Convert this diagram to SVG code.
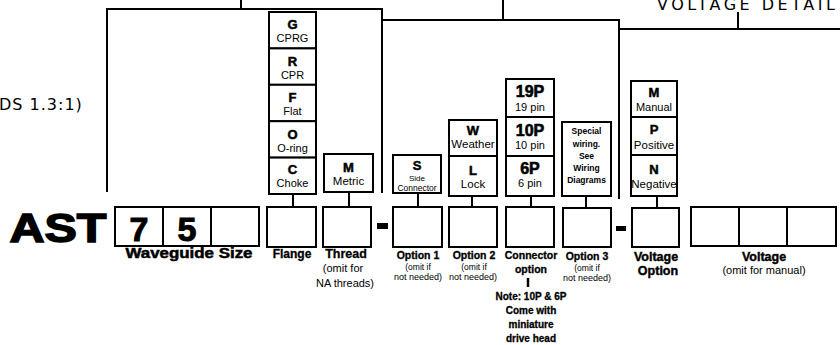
<svg xmlns="http://www.w3.org/2000/svg" width="840" height="345" viewBox="0 0 840 345">
<style>
.b{fill:#fff;stroke:#000;stroke-width:2}
.ln{fill:none;stroke:#000;stroke-width:2}
text{font-family:"Liberation Sans",Arial,sans-serif;fill:#000;text-anchor:middle}
.k{font-weight:bold}
.h{font-weight:bold;stroke:#000;stroke-width:0.5}
.cad{font-family:"DejaVu Sans",sans-serif;text-anchor:start;font-size:16px;letter-spacing:3.5px}
</style>
<rect width="840" height="345" fill="#fff"/>
<text class="cad" x="657" y="10">VOLTAGE DETAIL</text>
<text class="cad" x="-1" y="110" style="letter-spacing:1px">DS 1.3:1)</text>

<g id="connectors">
<polyline class="ln" points="107,192 107,9 382,9 382,193"/>
<line class="ln" x1="241" y1="0" x2="241" y2="9"/>
<polyline class="ln" points="382,20 619,20 619,199"/>
<line class="ln" x1="503" y1="0" x2="503" y2="20"/>
<polyline class="ln" points="619,29 840,29"/>
<line class="ln" x1="738" y1="12" x2="738" y2="29"/>
<line class="ln" x1="293" y1="194" x2="293" y2="207"/>
<line class="ln" x1="349" y1="192" x2="349" y2="207"/>
<line class="ln" x1="418" y1="193" x2="418" y2="207"/>
<line class="ln" x1="472" y1="196" x2="472" y2="207"/>
<line class="ln" x1="531" y1="196" x2="531" y2="207"/>
<line class="ln" x1="586" y1="196" x2="586" y2="208"/>
<line class="ln" x1="657" y1="196" x2="657" y2="208"/>
<line x1="528" y1="278" x2="528" y2="287" stroke="#000" stroke-width="2.5"/>
</g>

<g id="prefix">
<text class="h" x="58" y="242" font-size="40" textLength="97" lengthAdjust="spacingAndGlyphs" style="stroke-width:1.5">AST</text>
</g>

<g id="waveguide">
<rect class="b" x="115" y="207" width="48" height="39"/>
<rect class="b" x="163" y="207" width="48" height="39"/>
<rect class="b" x="211" y="207" width="48" height="39"/>
<text class="h" x="139" y="241" font-size="34" style="stroke-width:1">7</text>
<text class="h" x="187" y="241" font-size="34" style="stroke-width:1">5</text>
<text class="h" x="189" y="258" font-size="14" textLength="127" lengthAdjust="spacingAndGlyphs">Waveguide Size</text>
</g>

<g id="flange-options">
<rect class="b" x="269" y="12" width="47" height="36.4"/>
<rect class="b" x="269" y="48.4" width="47" height="36.4"/>
<rect class="b" x="269" y="84.8" width="47" height="36.4"/>
<rect class="b" x="269" y="121.2" width="47" height="36.4"/>
<rect class="b" x="269" y="157.6" width="47" height="36.4"/>
<text class="h" x="292.5" y="29" font-size="13">G</text>
<text x="292.5" y="42" font-size="11">CPRG</text>
<text class="h" x="292.5" y="65.5" font-size="13">R</text>
<text x="292.5" y="78.5" font-size="11">CPR</text>
<text class="h" x="292.5" y="102" font-size="13">F</text>
<text x="292.5" y="115" font-size="11">Flat</text>
<text class="h" x="292.5" y="138.5" font-size="13">O</text>
<text x="292.5" y="151.5" font-size="11">O-ring</text>
<text class="h" x="292.5" y="173.5" font-size="13">C</text>
<text x="292.5" y="187" font-size="11">Choke</text>
</g>
<g id="flange">
<rect class="b" x="267" y="207" width="49" height="40"/>
<text class="h" x="292" y="258" font-size="12" style="stroke-width:0.3">Flange</text>
</g>

<g id="thread-options">
<rect class="b" x="324" y="154" width="49" height="38"/>
<text class="h" x="348.5" y="172" font-size="13">M</text>
<text x="348.5" y="185" font-size="11.5">Metric</text>
</g>
<g id="thread">
<rect class="b" x="323" y="207" width="48" height="40"/>
<text class="h" x="346" y="258" font-size="12.5" style="stroke-width:0.3">Thread</text>
<text x="343" y="272" font-size="11">(omit for</text>
<text x="345" y="287" font-size="11">NA threads)</text>
</g>

<rect id="dash1" x="377" y="223" width="11" height="6" fill="#000"/>

<g id="option1-options">
<rect class="b" x="393" y="155" width="48" height="38"/>
<text class="h" x="417" y="170" font-size="13">S</text>
<text x="417" y="181" font-size="8">Side</text>
<text x="417" y="191" font-size="8.5">Connector</text>
</g>
<g id="option1">
<rect class="b" x="393" y="207" width="49" height="40"/>
<text class="h" x="418" y="259" font-size="10.5" style="stroke-width:0.3">Option 1</text>
<text x="418" y="270" font-size="8.5">(omit if</text>
<text x="418" y="280" font-size="9">not needed)</text>
</g>

<g id="option2-options">
<rect class="b" x="449" y="120" width="48" height="36"/>
<rect class="b" x="449" y="156" width="48" height="40"/>
<text class="h" x="473" y="135" font-size="13">W</text>
<text x="473" y="148" font-size="11.5">Weather</text>
<text class="h" x="473" y="175" font-size="13">L</text>
<text x="473" y="188" font-size="11.5">Lock</text>
</g>
<g id="option2">
<rect class="b" x="449" y="207" width="48" height="40"/>
<text class="h" x="474" y="259" font-size="10.5" style="stroke-width:0.3">Option 2</text>
<text x="474" y="270" font-size="8.5">(omit if</text>
<text x="473" y="280" font-size="9">not needed)</text>
</g>

<g id="connector-options">
<rect class="b" x="506" y="79" width="48" height="38"/>
<rect class="b" x="506" y="117" width="48" height="39"/>
<rect class="b" x="506" y="156" width="48" height="40"/>
<text class="h" x="530" y="97" font-size="16" style="stroke-width:0.6">19P</text>
<text x="530" y="111" font-size="11">19 pin</text>
<text class="h" x="530" y="136" font-size="16" style="stroke-width:0.6">10P</text>
<text x="530" y="149" font-size="11">10 pin</text>
<text class="h" x="530" y="174" font-size="16" style="stroke-width:0.6">6P</text>
<text x="530" y="187" font-size="11">6 pin</text>
</g>
<g id="connector-option">
<rect class="b" x="506" y="207" width="48" height="40"/>
<text class="h" x="531" y="259" font-size="10.5" style="stroke-width:0.3">Connector</text>
<text class="h" x="531" y="273" font-size="10.5" style="stroke-width:0.3">option</text>
<text class="h" x="531" y="300" font-size="10" style="stroke-width:0.3">Note: 10P &amp; 6P</text>
<text class="h" x="531" y="314" font-size="10" style="stroke-width:0.3">Come with</text>
<text class="h" x="531" y="328" font-size="10" style="stroke-width:0.3">miniature</text>
<text class="h" x="531" y="342" font-size="10" style="stroke-width:0.3">drive head</text>
</g>

<g id="option3-options">
<rect class="b" x="562" y="122" width="49" height="74"/>
<text class="k" x="586.5" y="134" font-size="8.5">Special</text>
<text class="k" x="586.5" y="147" font-size="8.5">wiring.</text>
<text class="k" x="586.5" y="159" font-size="8.5">See</text>
<text class="k" x="586.5" y="171" font-size="8.5">Wiring</text>
<text class="k" x="586.5" y="183" font-size="8.5">Diagrams</text>
</g>
<g id="option3">
<rect class="b" x="563" y="208" width="48" height="39"/>
<text class="h" x="587" y="260" font-size="10.5" style="stroke-width:0.3">Option 3</text>
<text x="587" y="271" font-size="8.5">(omit if</text>
<text x="587" y="281" font-size="9">not needed)</text>
</g>

<rect id="dash2" x="616" y="226" width="10" height="5" fill="#000"/>

<g id="voltage-option-options">
<rect class="b" x="631" y="81" width="46" height="36"/>
<rect class="b" x="631" y="117" width="46" height="38"/>
<rect class="b" x="631" y="155" width="46" height="41"/>
<text class="h" x="654" y="97" font-size="13">M</text>
<text x="654" y="111" font-size="11">Manual</text>
<text class="h" x="654" y="134" font-size="13">P</text>
<text x="654" y="149" font-size="11.5">Positive</text>
<text class="h" x="654" y="174" font-size="13">N</text>
<text x="654" y="188" font-size="11.5">Negative</text>
</g>
<g id="voltage-option">
<rect class="b" x="632" y="208" width="47" height="39"/>
<text class="h" x="656" y="261" font-size="12.5" style="stroke-width:0.4">Voltage</text>
<text class="h" x="658" y="275" font-size="12.5" style="stroke-width:0.4">Option</text>
</g>

<g id="voltage">
<rect class="b" x="691" y="207" width="48" height="39"/>
<rect class="b" x="739" y="207" width="48" height="39"/>
<rect class="b" x="787" y="207" width="49" height="39"/>
<text class="h" x="764" y="261" font-size="12.5" style="stroke-width:0.4">Voltage</text>
<text x="764" y="274" font-size="11">(omit for manual)</text>
</g>
</svg>
